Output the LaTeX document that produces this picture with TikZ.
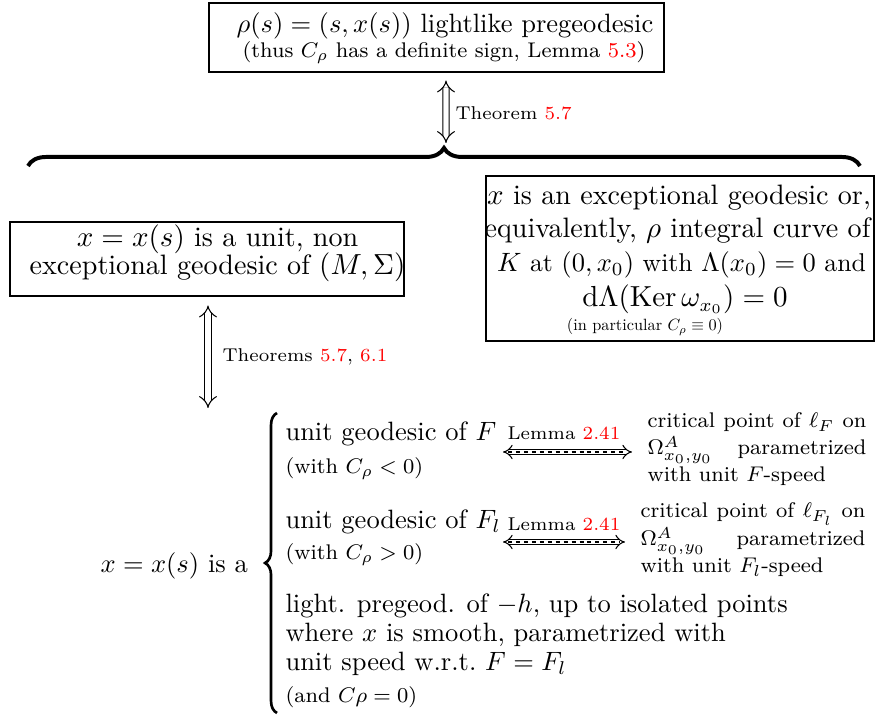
\documentclass[tikz,border=0pt]{standalone}
\usepackage{amsmath,amssymb}
\usepackage{graphicx}
\usetikzlibrary{arrows.meta,decorations.pathreplacing,calc,fit}
\newcommand{\refc}[1]{\textcolor{red}{#1}}
\begin{document}
\begin{tikzpicture}[x=0.3774pt,y=-0.3774pt,
  boxst/.style={draw,line width=0.4pt,inner sep=0pt},
  txt/.style={inner sep=0pt,font=\fontsize{10}{12}\selectfont},
  bxt/.style={inner sep=0pt,font=\fontsize{10.6}{12.7}\selectfont},
  fnt/.style={inner sep=0pt,font=\footnotesize},
  labt/.style={inner sep=0pt,font=\scriptsize},
  tnt/.style={inner sep=0pt,font=\fontsize{10}{12}\selectfont},
  dbl/.style={double,double distance=2pt,line width=0.4pt,{Implies}-{Implies}},
  ddbl/.style={double,double distance=1.5pt,line width=0.4pt,{Implies[scale=1.2]}-{Implies[scale=1.2]}},
  midd/.style={line width=0.4pt,dash pattern=on 1.5pt off 1.5pt},
]
\useasboundingbox (0,0) rectangle (875,719);

% top box
\node[boxst,fit={(209,3) (664,72)}] (topbox) {};
\node[txt,anchor=base] (top1) at (445,33) {$\rho(s)=(s,x(s))$ lightlike pregeodesic};
\node[fnt,anchor=base] (top2) at (444,58) {(thus $C_\rho$ has a definite sign, Lemma \refc{5.3})};

% brace
\coordinate (bracetip) at (446,143);
\coordinate (bl) at (28,166);
\coordinate (br) at (860,166);
\draw[decorate,decoration={brace,amplitude=6.8pt},line width=1.5pt] (bl) -- (br);
\draw[dbl] ($(topbox.south)+(9.5,8)$) -- (bracetip);
\node[labt,anchor=west] (th1) at (455,113) {Theorem \refc{5.7}};

% left box
\node[boxst,fit={(10,222) (404,296)}] (leftbox) {};
\node[bxt,anchor=base] (lb1) at (217.5,247) {$x=x(s)$ is a unit, non};
\node[bxt,anchor=base] (lb2) at (217.5,275) {exceptional geodesic of $(M,\Sigma)$};

% right box
\node[boxst,fit={(486,176) (874,341)}] (rightbox) {};
\node[bxt,anchor=base] (rb1) at (679,205) {$x$ is an exceptional geodesic or,};
\node[bxt,anchor=base] (rb2) at (677.5,238) {equivalently, $\rho$ integral curve of};
\node[inner sep=0pt,font=\fontsize{9.7}{12}\selectfont,anchor=base] (rb3) at (681.5,272) {$K$ at $(0,x_0)$ with $\Lambda(x_0)=0$ and};
\node[bxt,anchor=base] (rb4) at (685,307) {$\mathrm{d}\Lambda(\operatorname{Ker}\omega_{x_0})=0$};
\node[tnt,anchor=base] (rb5) at (645,331) {\scalebox{0.615}{(in particular $C_\rho\equiv0$)}};

% second arrow
\coordinate (a2end) at (208,408);
\draw[dbl] ($(leftbox.south)+(1,9)$) -- (a2end);
\node[labt,anchor=west] (th2) at (222,357) {Theorems \refc{5.7}, \refc{6.1}};

% big left brace
\coordinate (lbb) at (277,713);
\coordinate (lbt) at (277,413);
\draw[decorate,decoration={brace,amplitude=4.5pt},line width=1pt] (lbb) -- (lbt);
\node[txt,anchor=base west] (xis) at (100,573) {$x=x(s)$ is a};

% items
\node[txt,anchor=base west] (u1) at (285,441) {unit geodesic of $F$};
\node[fnt,anchor=base west] (w1) at (285,474) {(with $C_\rho<0$)};
\node[txt,anchor=base west] (u2) at (285,529) {unit geodesic of $F_l$};
\node[fnt,anchor=base west] (w2) at (285,560) {(with $C_\rho>0$)};
\node[txt,anchor=base west] (p1) at (285,613) {light. pregeod. of $-h$, up to isolated points};
\node[txt,anchor=base west] (p2) at (285,642) {where $x$ is smooth, parametrized with};
\node[txt,anchor=base west] (p3) at (285,671) {unit speed w.r.t.\ $F=F_l$};
\node[fnt,anchor=base west] (p4) at (285,703) {(and $C\rho=0$)};

% critical point texts
\node[fnt,anchor=base west] (c11) at (647,428) {\makebox[82.6pt][s]{critical point of $\ell_F$ on}};
\node[fnt,anchor=base west] (c12) at (647,455) {\makebox[82.6pt][s]{$\Omega^A_{x_0,y_0}$\hfill parametrized}};
\node[fnt,anchor=base west] (c13) at (647,482) {with unit $F$-speed};
\node[fnt,anchor=base west] (c21) at (640,518) {\makebox[84.9pt][s]{critical point of $\ell_{F_l}$ on}};
\node[fnt,anchor=base west] (c22) at (640,546) {\makebox[84.9pt][s]{$\Omega^A_{x_0,y_0}$\hfill parametrized}};
\node[fnt,anchor=base west] (c23) at (640,573) {with unit $F_l$-speed};

% lemma arrows
\coordinate (d1a) at (503,452);
\coordinate (d1b) at (632,452);
\coordinate (d2a) at (503,542);
\coordinate (d2b) at (625,542);
\draw[ddbl] (d1a) -- (d1b);
\draw[midd] ($(d1a)+(5,0)$) -- ($(d1b)+(-5,0)$);
\draw[ddbl] (d2a) -- (d2b);
\draw[midd] ($(d2a)+(5,0)$) -- ($(d2b)+(-5,0)$);
\node[labt,anchor=base] (lm1) at (564,440) {Lemma \refc{2.41}};
\node[labt,anchor=base] (lm2) at (564,531) {Lemma \refc{2.41}};
\end{tikzpicture}
\end{document}
